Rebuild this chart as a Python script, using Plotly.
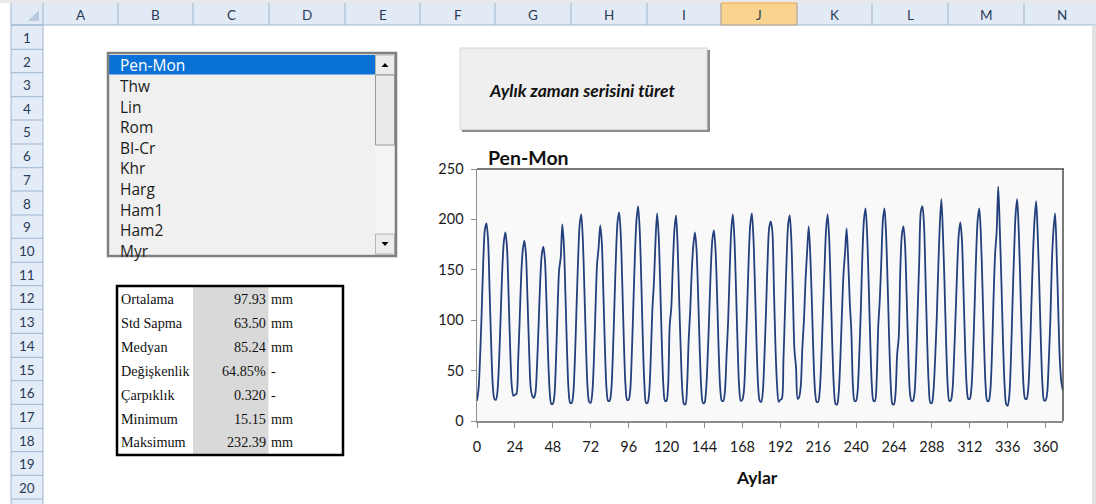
import plotly.graph_objects as go

W, H = 1096, 504

# ---------------- data ----------------
# monthly values (mm) for each of 31 years, Jan..Dec
y00 = [20, 32, 65, 110, 160, 190, 196, 180, 128, 75, 35, 22]
y01 = [21, 30, 60, 105, 150, 178, 187, 172, 125, 72, 35, 25]
y02 = [26, 27, 58, 100, 145, 170, 179, 165, 120, 70, 33, 25]
y03 = [23, 28, 55, 95, 138, 165, 173, 160, 118, 65, 30, 17]
y04 = [17, 25, 60, 110, 150, 162, 195, 175, 125, 70, 30, 18]
y05 = [18, 28, 62, 112, 160, 195, 205, 180, 130, 75, 33, 19]
y06 = [18, 28, 60, 110, 155, 172, 194, 178, 128, 72, 32, 20]
y07 = [20, 30, 65, 115, 165, 198, 207, 185, 135, 78, 36, 21]
y08 = [21, 30, 66, 115, 165, 200, 213, 190, 140, 80, 36, 18]
y09 = [18, 28, 62, 110, 137, 178, 206, 185, 135, 78, 35, 20]
y10 = [20, 35, 95, 112, 155, 190, 204, 175, 120, 70, 30, 17]
y11 = [16.5, 35, 80, 110, 150, 175, 187, 170, 125, 72, 32, 18]
y12 = [18, 30, 62, 105, 150, 180, 189, 170, 125, 70, 32, 20]
y13 = [20, 30, 65, 99, 150, 190, 205, 180, 130, 75, 33, 20]
y14 = [21, 30, 65, 110, 160, 195, 206, 182, 132, 76, 34, 20]
y15 = [19, 30, 65, 110, 160, 192, 198, 188, 130, 72, 35, 19]
y16 = [21, 22, 60, 110, 160, 195, 204, 180, 125, 70, 53, 22]
y17 = [24, 35, 73, 100, 140, 168, 193, 165, 118, 65, 30, 19]
y18 = [19, 30, 62, 106, 150, 190, 205, 180, 128, 72, 32, 17]
y19 = [16.5, 28, 60, 105, 145, 167, 191, 160, 118, 89, 35, 20]
y20 = [20, 30, 65, 110, 165, 200, 211, 185, 135, 78, 35, 20]
y21 = [20, 40, 93, 120, 160, 200, 211, 185, 135, 78, 34, 17]
y22 = [16.5, 28, 66, 83, 150, 185, 193, 175, 125, 70, 30, 20]
y23 = [20, 28, 60, 110, 160, 208, 213, 195, 140, 80, 36, 18]
y24 = [18, 30, 60, 99, 150, 195, 220, 185, 135, 78, 35, 20]
y25 = [20.5, 30, 62, 105, 150, 185, 197, 180, 130, 75, 35, 22]
y26 = [22, 32, 65, 112, 165, 200, 211, 185, 135, 78, 35, 20]
y27 = [20, 30, 65, 120, 165, 188, 232.39, 190, 138, 80, 36, 17]
y28 = [15.15, 25, 60, 115, 165, 205, 220, 188, 135, 78, 35, 22]
y29 = [22, 32, 65, 115, 165, 200, 218, 185, 135, 78, 36, 20.5]
y30 = [20.5, 28, 60, 100, 159, 190, 206, 165, 110, 60, 38, 30]

years = [y00, y01, y02, y03, y04, y05, y06, y07, y08, y09, y10, y11, y12, y13, y14, y15,
         y16, y17, y18, y19, y20, y21, y22, y23, y24, y25, y26, y27, y28, y29, y30]
values = [v for yr in years for v in yr]
months = list(range(len(values)))

x_ticks = [0, 24, 48, 72, 96, 120, 144, 168, 192, 216, 240, 264, 288, 312, 336, 360]
y_ticks = [0, 50, 100, 150, 200, 250]

station_names = ["Pen-Mon", "Thw", "Lin", "Rom", "BI-Cr", "Khr", "Harg", "Ham1", "Ham2", "Myr"]
stat_labels = ["Ortalama", "Std Sapma", "Medyan", "Değişkenlik", "Çarpıklık", "Minimum", "Maksimum"]
stat_values = ["97.93", "63.50", "85.24", "64.85%", "0.320", "15.15", "232.39"]
stat_units = ["mm", "mm", "mm", "-", "-", "mm", "mm"]

col_letters = ["A", "B", "C", "D", "E", "F", "G", "H", "I", "J", "K", "L", "M", "N"]
row_numbers = [str(i) for i in range(1, 21)]

# ---------------- geometry helpers ----------------
def px(x):
    return x / W

def py(y):
    return 1 - y / H

shapes = []
annotations = []

def rect(x0, y0, x1, y1, fill=None, line=None, lw=0, layer="below"):
    shapes.append(dict(type="rect", xref="paper", yref="paper",
                       x0=px(x0), x1=px(x1), y0=py(y1), y1=py(y0),
                       fillcolor=fill if fill else "rgba(0,0,0,0)",
                       line=dict(color=line if line else "rgba(0,0,0,0)", width=lw),
                       layer=layer))

def hline(x0, x1, y, color, lw=1, layer="below"):
    shapes.append(dict(type="line", xref="paper", yref="paper",
                       x0=px(x0), x1=px(x1), y0=py(y), y1=py(y),
                       line=dict(color=color, width=lw), layer=layer))

def vline(x, y0, y1, color, lw=1, layer="below"):
    shapes.append(dict(type="line", xref="paper", yref="paper",
                       x0=px(x), x1=px(x), y0=py(y0), y1=py(y1),
                       line=dict(color=color, width=lw), layer=layer))

def text(x, y, s, size=13, color="#222", family="Lato", xanchor="center", yanchor="middle",
         bold=False, italic=False, pad=1):
    if bold:
        s = "<b>" + s + "</b>"
    if italic:
        s = "<i>" + s + "</i>"
    annotations.append(dict(x=px(x), y=py(y), xref="paper", yref="paper", text=s,
                            showarrow=False, xanchor=xanchor, yanchor=yanchor, borderpad=pad,
                            font=dict(size=size, color=color, family=family)))

# ---------------- spreadsheet chrome ----------------
col_edges = [43, 118, 193, 269, 345, 420, 495, 571, 647, 721, 797, 872, 948, 1024, 1099]
row_edges = [25, 49.3, 72.7, 96.7, 120, 144, 167.7, 191, 215, 238.3, 262.3, 285.7, 309.3,
             333.3, 357.3, 380.7, 404.3, 428.3, 451.7, 475.3, 499]
hdr_border = "#9eb6ce"
hdr_fill = "#e1eaf5"

rect(0, 0, W, 3, fill="#e9e9e9")
rect(11, 3, W, 25, fill=hdr_fill)
rect(11, 25, 43, H, fill="#e4ecf7")
# selected column J header
rect(col_edges[9], 3, col_edges[10], 25, fill="#f8d490", line="#f0a33c", lw=1)
for xe in col_edges[:-1]:
    vline(xe, 3, 25, hdr_border)
hline(11, W, 25, hdr_border)
vline(11, 3, H, hdr_border)
vline(43, 25, H, hdr_border)
for ye in row_edges:
    hline(11, 43, ye, hdr_border)
# corner triangle
shapes.append(dict(type="path", xref="paper", yref="paper",
                   path="M {},{} L {},{} L {},{} Z".format(px(39), py(21), px(39), py(10), px(28), py(21)),
                   fillcolor="#b9c9de", line=dict(width=0), layer="below"))
# right scroll edge
rect(1092, 25, W, H, fill="#e2e2e2")

for i, c in enumerate(col_letters):
    text((col_edges[i] + col_edges[i + 1]) / 2, 14.5, c, size=13.5, color="#2a3b55")
for i, r in enumerate(row_numbers):
    text(27, (row_edges[i] + row_edges[i + 1]) / 2 + 0.5, r, size=13.5, color="#2a3b55", pad=0)

# ---------------- list box ----------------
lb_x0, lb_y0, lb_x1, lb_y1 = 108, 53, 396, 256
rect(lb_x0, lb_y0, lb_x1, lb_y1, fill="#f0f0f0")
rect(lb_x0 + 1, 55, 375, 74.5, fill="#0a72d6")
item_y = [65, 86, 106.5, 127, 147.5, 168, 189, 209.5, 230, 250.5]
for i, name in enumerate(station_names):
    text(119, item_y[i], name, size=15.5, color="#ffffff" if i == 0 else "#1c1c1c",
         family="Open Sans", xanchor="left", pad=0)
# scrollbar
rect(375.5, 74.5, 394.5, 235, fill="#f5f5f5", layer="above")
rect(375.5, 55, 394.5, 74.5, fill="#ececec", line="#b5b5b5", lw=1, layer="above")
rect(375.5, 75, 394.5, 145, fill="#ebebeb", line="#9a9a9a", lw=1, layer="above")
rect(375.5, 234, 394.5, 254, fill="#ececec", line="#b5b5b5", lw=1, layer="above")
shapes.append(dict(type="path", xref="paper", yref="paper",
                   path="M {},{} L {},{} L {},{} Z".format(px(381.5), py(67), px(388.5), py(67), px(385), py(63)),
                   fillcolor="#000000", line=dict(width=0), layer="above"))
shapes.append(dict(type="path", xref="paper", yref="paper",
                   path="M {},{} L {},{} L {},{} Z".format(px(381.5), py(242), px(388.5), py(242), px(385), py(246)),
                   fillcolor="#000000", line=dict(width=0), layer="above"))
# clip the last item
rect(lb_x0, 254.5, 375, 264, fill="#ffffff", layer="above")
rect(lb_x0, lb_y0, lb_x1, lb_y1, line="#7f7f7f", lw=2.5, layer="above")

# ---------------- button ----------------
rect(462, 50, 710, 132, fill="#8c8c8c")
rect(460, 48, 707, 129.5, fill="#efefef", line="#d6d6d6", lw=1)
text(582, 90, "Aylık zaman serisini türet", size=17.5, color="#111111", bold=True, italic=True)

# ---------------- stats table ----------------
rect(193, 286, 268.5, 454, fill="#d9d9d9")
rect(117, 286, 343, 455, line="#000000", lw=2.5)
stat_y = [298.5, 322.5, 346.5, 370.5, 394.5, 418.5, 442]
for i in range(len(stat_labels)):
    text(120, stat_y[i], stat_labels[i], size=14.2, color="#111111", family="Liberation Serif", xanchor="left", pad=0)
    text(267, stat_y[i], stat_values[i], size=14.2, color="#111111", family="Liberation Serif", xanchor="right", pad=0)
    text(270, stat_y[i], stat_units[i], size=14.2, color="#111111", family="Liberation Serif", xanchor="left", pad=0)

# ---------------- chart ----------------
plot_x0, plot_x1, plot_y0, plot_y1 = 477, 1063, 169, 421
rect(plot_x0, plot_y0, plot_x1, plot_y1, fill="#f9f9f9")
hline(plot_x0, plot_x1 + 1, plot_y0, "#4d4d4d", lw=1.5, layer="above")
vline(plot_x1, plot_y0, plot_y1, "#4d4d4d", lw=1.5, layer="above")
text(486, 157, "Pen-Mon", size=19.5, color="#111111", bold=True, xanchor="left")
text(757, 477, "Aylar", size=17.5, color="#111111", bold=True)

fig = go.Figure()
fig.add_trace(go.Scatter(x=months, y=values, mode="lines",
                         line=dict(color="#233f7c", width=1.8, shape="spline", smoothing=0.8),
                         hoverinfo="skip", showlegend=False))

axis_font = dict(family="Lato", size=14.5, color="#1a1a1a")
fig.update_layout(
    width=W, height=H,
    margin=dict(l=0, r=0, t=0, b=0, autoexpand=False),
    paper_bgcolor="#ffffff",
    plot_bgcolor="rgba(0,0,0,0)",
    showlegend=False,
    shapes=shapes,
    annotations=annotations,
    xaxis=dict(domain=[px(plot_x0), px(plot_x1)], range=[0, 371], tickvals=x_ticks,
               ticks="outside", ticklen=5, tickcolor="#8c8c8c", showline=True,
               linecolor="#8c8c8c", linewidth=1.5, showgrid=False, zeroline=False,
               tickfont=axis_font, ticklabelstandoff=7, fixedrange=True, automargin=False),
    yaxis=dict(domain=[py(plot_y1), py(plot_y0)], range=[0, 250], tickvals=y_ticks,
               ticks="outside", ticklen=5, tickcolor="#8c8c8c", showline=True,
               linecolor="#8c8c8c", linewidth=1.5, showgrid=False, zeroline=False,
               tickfont=axis_font, ticklabelstandoff=4, fixedrange=True, automargin=False),
)

fig.write_html(
    "out.html",
    config={"displayModeBar": False, "staticPlot": True},
    post_script=("document.documentElement.style.margin='0';"
                 "document.documentElement.style.padding='0';"
                 "document.documentElement.style.overflow='hidden';"
                 "document.body.style.margin='0';"
                 "document.body.style.padding='0';"
                 "document.body.style.overflow='hidden';"),
)
